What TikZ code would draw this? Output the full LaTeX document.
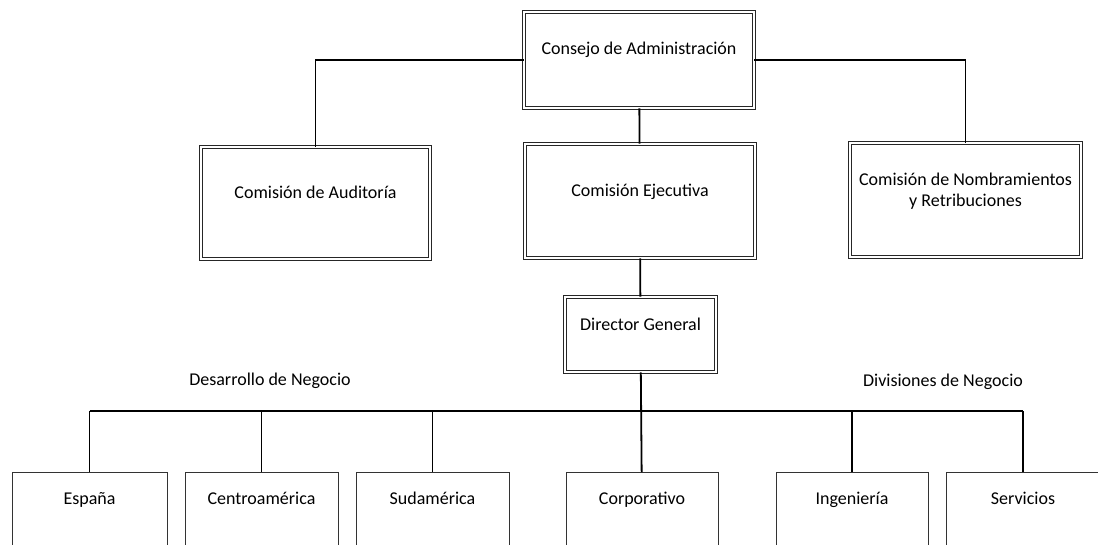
\documentclass[tikz,border=0pt]{standalone}
\usepackage{fontspec}
\setmainfont{Carlito}
\usepackage{tikz}
\usetikzlibrary{calc}
\tikzstyle{organo} = [draw=black!85,double,double distance=2.6pt,line width=0.6pt,text height=12pt,font=\fontsize{18}{21}\selectfont,align=center]
\tikzstyle{area} = [draw=black!80,line width=0.5pt,anchor=north,inner ysep=20pt,text height=12pt,text depth=30pt,font=\fontsize{18}{21}\selectfont]
\tikzstyle{enlace} = [line width=1.8pt]

\begin{document}
\begin{tikzpicture}[x=1pt,y=-1pt]
\useasboundingbox (0,0) rectangle (1098,544);

% Draw the board and its committees
    \node[organo,minimum width=230,minimum height=96,text depth=24pt] at (639,60) (consejo) {Consejo de Administración};
    \node[organo,minimum width=229,minimum height=112,text depth=22pt] at (315.5,203) (auditoria) {Comisión de Auditoría};
    \node[organo,minimum width=230,minimum height=114,text depth=22pt] at (640,201) (ejecutiva) {Comisión Ejecutiva};
    \node[organo,minimum width=231,minimum height=114,text depth=0pt] at (965.5,200) (nombram) {Comisión de Nombramientos\\y Retribuciones};
    \node[organo,minimum width=151,minimum height=75,text depth=20pt] at (640.5,334.5) (director) {Director General};
    \draw[enlace] (consejo.west) -| (auditoria.north);
    \draw[enlace] (consejo.east) -| (nombram.north);
    \draw[enlace] (consejo) -- (ejecutiva);
    \draw[enlace] (ejecutiva) -- (director);

% Draw the business areas
    \node[area,minimum width=155] at (89.5,472) (espana) {España};
    \node[area,minimum width=153] at (261.5,472) (centro) {Centroamérica};
    \node[area,minimum width=153] at (432.5,472) (sud) {Sudamérica};
    \node[area,minimum width=152] at (642,472) (corpor) {Corporativo};
    \node[area,minimum width=152] at (852,472) (ingen) {Ingeniería};
    \node[area,minimum width=154] at (1023,472) (servic) {Servicios};
    \coordinate (bus) at (642,411);
    \draw[enlace] (director) -- (corpor);
    \draw[enlace] (espana.north |- bus) -- (servic.north |- bus);
    \foreach \a in {espana,centro,sud,ingen,servic}
        \draw[enlace] (\a.north |- bus) -- (\a.north);

    \node[font=\fontsize{18}{21}\selectfont] at (270,381) (desarrollo) {Desarrollo de Negocio};
    \node[font=\fontsize{18}{21}\selectfont] at (943,382) (divisiones) {Divisiones de Negocio};

\end{tikzpicture}
\end{document}
